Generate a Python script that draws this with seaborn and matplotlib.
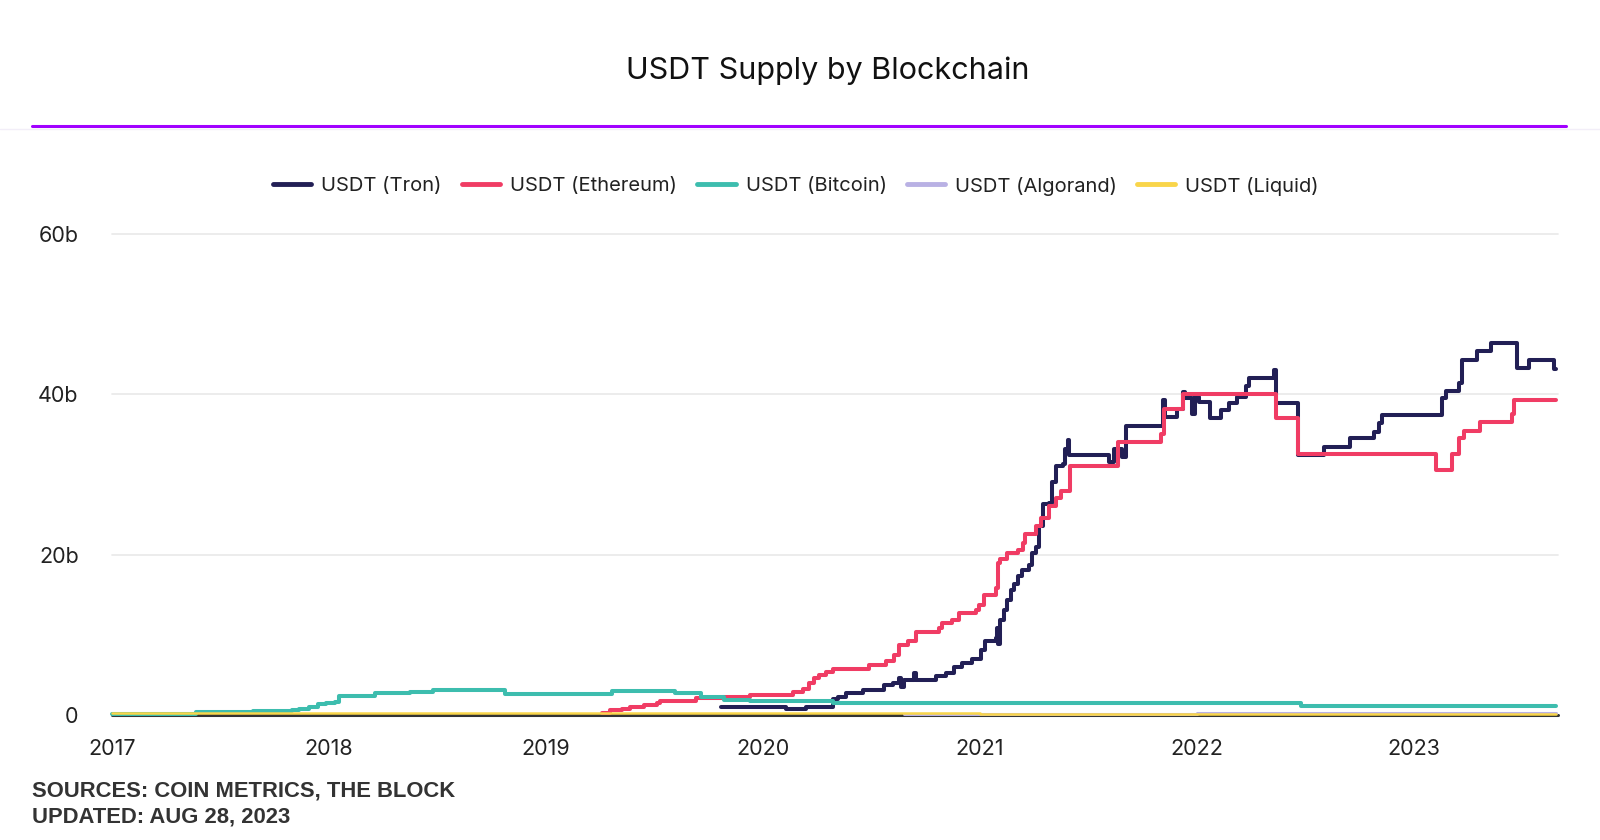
import numpy as np
import pandas as pd
import matplotlib
matplotlib.use("Agg")
import matplotlib.pyplot as plt
import seaborn as sns
from matplotlib.lines import Line2D

# ---------------- data (decimal year, value in billions) ----------------
tron_x = [2019.809, 2020.107, 2020.199, 2020.322, 2020.345, 2020.383, 2020.460,
          2020.559, 2020.598, 2020.628, 2020.636, 2020.651, 2020.697, 2020.705, 2020.797,
          2020.843, 2020.881, 2020.919, 2020.965, 2021.004, 2021.024, 2021.073, 2021.080,
          2021.085, 2021.095, 2021.110, 2021.127, 2021.145, 2021.160, 2021.176, 2021.193,
          2021.226, 2021.242, 2021.259, 2021.275, 2021.292, 2021.318, 2021.333, 2021.350,
          2021.383, 2021.391, 2021.407, 2021.412, 2021.597, 2021.617, 2021.655, 2021.676,
          2021.845, 2021.853, 2021.911, 2021.936, 2021.944, 2021.977, 2021.993, 2022.010,
          2022.059, 2022.112, 2022.150, 2022.188, 2022.225, 2022.241, 2022.357, 2022.365,
          2022.469, 2022.588, 2022.707, 2022.819, 2022.839, 2022.855, 2023.129, 2023.149,
          2023.207, 2023.223, 2023.293, 2023.356, 2023.476, 2023.532, 2023.645, 2023.655]
tron_y = [0.95, 0.75, 0.95, 2.0, 2.3, 2.7, 3.1,
          3.75, 4.0, 4.6, 3.5, 4.4, 5.2, 4.4, 4.9,
          5.2, 6.0, 6.5, 7.0, 8.1, 9.2, 9.6, 10.8,
          8.8, 11.9, 13.1, 14.3, 15.6, 16.3, 17.3, 18.1,
          18.7, 20.2, 21.0, 23.6, 26.3, 26.4, 29.1, 31.1,
          31.3, 33.2, 34.3, 32.4, 31.5, 33.2, 32.2, 36.1,
          39.3, 37.2, 38.2, 40.3, 39.5, 37.6, 39.7, 39.1,
          37.0, 38.0, 38.9, 39.7, 41.0, 42.0, 43.0, 38.9,
          32.4, 33.4, 34.5, 35.3, 36.4, 37.4, 39.5, 40.4,
          41.4, 44.3, 45.4, 46.4, 43.3, 44.3, 43.1, 43.1]

eth_x = [2019.26, 2019.295, 2019.35, 2019.387, 2019.45, 2019.510, 2019.525,
         2019.694, 2019.816, 2019.939, 2020.138, 2020.184, 2020.215, 2020.238, 2020.261,
         2020.291, 2020.322, 2020.490, 2020.567, 2020.605, 2020.628, 2020.667, 2020.705,
         2020.812, 2020.827, 2020.873, 2020.904, 2020.981, 2020.996, 2021.019, 2021.073,
         2021.085, 2021.094, 2021.127, 2021.176, 2021.201, 2021.209, 2021.259, 2021.284,
         2021.317, 2021.350, 2021.374, 2021.416, 2021.638, 2021.837, 2021.848, 2021.936,
         2022.365, 2022.469, 2023.103, 2023.179, 2023.207, 2023.232, 2023.306, 2023.455,
         2023.463, 2023.655]
eth_y = [0.2, 0.6, 0.8, 1.0, 1.2, 1.5, 1.7,
         2.1, 2.2, 2.5, 2.9, 3.3, 4.0, 4.6, 5.0,
         5.4, 5.8, 6.25, 6.7, 7.5, 8.75, 9.2, 10.4,
         10.8, 11.5, 11.9, 12.7, 13.1, 13.75, 15.0, 15.8,
         19.0, 19.4, 20.2, 20.6, 21.5, 22.6, 23.6, 24.6,
         26.1, 27.1, 28.0, 31.1, 34.0, 35.0, 38.2, 40.0,
         37.1, 32.5, 30.5, 32.5, 34.5, 35.4, 36.5, 37.6,
         39.3, 39.3]

btc_x = [2017.0, 2017.388, 2017.652, 2017.828, 2017.863, 2017.907, 2017.951, 2017.986,
         2018.030, 2018.047, 2018.214, 2018.373, 2018.478, 2018.813, 2019.305, 2019.595,
         2019.716, 2019.820, 2019.939, 2020.322, 2022.480, 2023.655]
btc_y = [0.1, 0.35, 0.5, 0.6, 0.8, 1.0, 1.35, 1.5,
         1.65, 2.4, 2.7, 2.9, 3.1, 2.6, 3.0, 2.7,
         2.3, 1.9, 1.7, 1.5, 1.1, 1.1]

algo_x = [2020.65, 2021.5, 2022.0, 2023.655]
algo_y = [0.1, 0.15, 0.25, 0.25]

liquid_x = [2017.0, 2019.5, 2021.0, 2023.655]
liquid_y = [0.2, 0.2, 0.18, 0.18]

series = ["USDT (Tron)", "USDT (Ethereum)", "USDT (Bitcoin)", "USDT (Algorand)", "USDT (Liquid)"]
colors = ["#221f55", "#f03c64", "#3dbdae", "#b9b1e4", "#f9d54a"]
widths = [2.9, 2.9, 2.9, 2.2, 1.8]
year_ticks = [2017, 2018, 2019, 2020, 2021, 2022, 2023]
y_ticks = [0, 20, 40, 60]
y_tick_labels = ["0", "20b", "40b", "60b"]

frames = []
for name, xs, ys in zip(series, [tron_x, eth_x, btc_x, algo_x, liquid_x],
                        [tron_y, eth_y, btc_y, algo_y, liquid_y]):
    frames.append(pd.DataFrame({"year": xs, "value": ys, "series": name}))
df = pd.concat(frames, ignore_index=True)

# ---------------- style ----------------
sns.set_theme(style="white")
plt.rcParams["font.family"] = ["Inter", "DejaVu Sans"]

fig = plt.figure(figsize=(16, 8.4), dpi=100)
ax = fig.add_axes([0.07, 1 - 715 / 840, 0.9737 - 0.07, (715 - 234) / 840])

for v in [20, 40, 60]:
    ax.axhline(v, color="#ebebeb", linewidth=1.3, zorder=0)
ax.axhline(0, color="#333333", linewidth=2.2, zorder=1.5)
for name, c, w in zip(series, colors, widths):
    sub = df[df["series"] == name]
    sns.lineplot(data=sub, x="year", y="value", color=c, drawstyle="steps-post",
                 estimator=None, sort=False, linewidth=w, legend=False, ax=ax, zorder=2)
for ln in ax.lines:
    ln.set_clip_on(False)

ax.set_xlim(2017.0, 2023.665)
ax.set_ylim(0, 60)
ax.set_yticks(y_ticks)
ax.set_yticklabels(y_tick_labels)
ax.set_xticks(year_ticks)
ax.set_xticklabels([str(y) for y in year_ticks])
ax.tick_params(axis="both", length=0, labelsize=15.5, colors="#222222")
ax.tick_params(axis="y", pad=24)
ax.tick_params(axis="x", pad=17)
for lbl in ax.get_yticklabels():
    lbl.set_horizontalalignment("right")
ax.set_xlabel("")
ax.set_ylabel("")
for s in ax.spines.values():
    s.set_visible(False)
ax.grid(False)

# Title and purple rule
fig.text(0.5175, 1 - 71 / 840, "USDT Supply by Blockchain", ha="center", va="center",
         fontsize=22, color="#111111")
fig.add_artist(Line2D([32 / 1600, 1566 / 1600], [1 - 126 / 840, 1 - 126 / 840],
                      color="#a100ff", linewidth=2.2, transform=fig.transFigure))
fig.add_artist(Line2D([0, 1], [1 - 128.5 / 840, 1 - 128.5 / 840],
                      color="#f2eef8", linewidth=1.0, transform=fig.transFigure))

# Legend
handles = [Line2D([0], [0], color=c, linewidth=3.5, solid_capstyle="round") for c in colors]
fig.legend(handles, series, loc="center", bbox_to_anchor=(0.4975, 1 - 186 / 840),
           ncol=5, frameon=False, fontsize=14.5, handlelength=1.9, handletextpad=0.5,
           columnspacing=1.0, labelcolor="#222222")

# Footer
fig.text(32 / 1600, 1 - 791 / 840, "SOURCES: COIN METRICS, THE BLOCK", ha="left", va="center",
         fontsize=15.8, fontweight="bold", color="#333333", family=["Liberation Sans", "DejaVu Sans"])
fig.text(32 / 1600, 1 - 817 / 840, "UPDATED: AUG 28, 2023", ha="left", va="center",
         fontsize=15.8, fontweight="bold", color="#333333", family=["Liberation Sans", "DejaVu Sans"])

fig.savefig("out.png", dpi=100, facecolor="white")
